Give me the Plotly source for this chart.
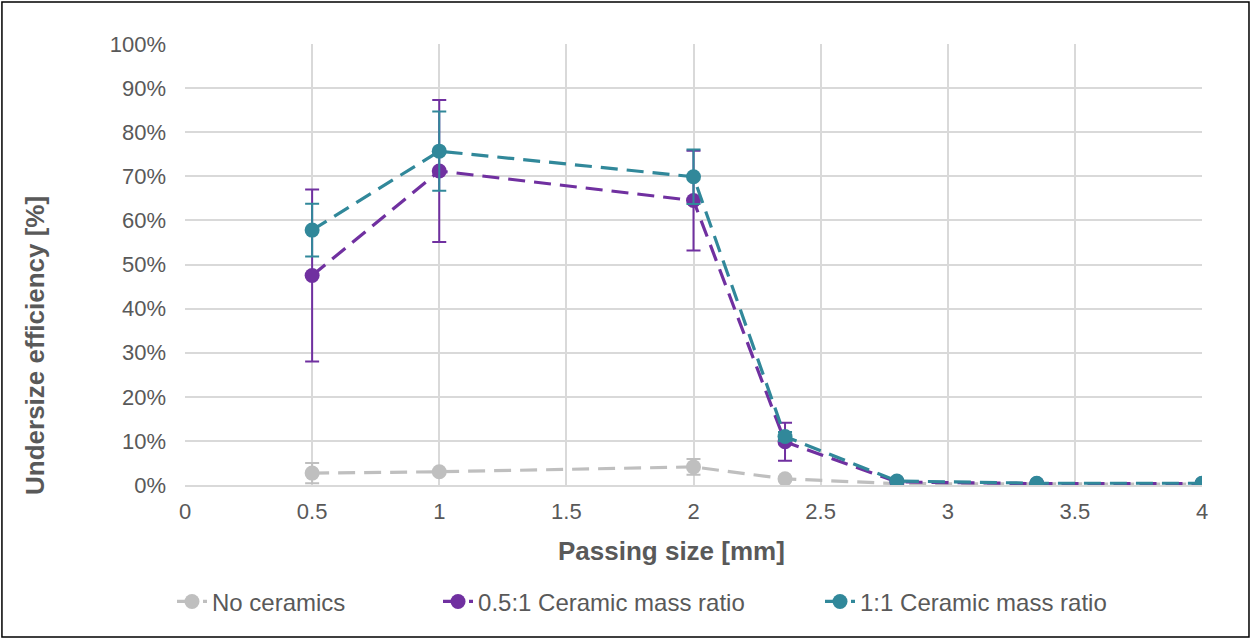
import plotly.graph_objects as go

sizes = [0.5, 1.0, 2.0, 2.36, 2.8, 3.35, 4.0]
no_ceramics = [2.7, 3.0, 4.1, 1.4, 0.3, 0.2, 0.2]
no_ceramics_err = [2.3, 0.0, 1.8, 0.0, 0.0, 0.0, 0.0]
half_ratio = [47.5, 71.2, 64.5, 9.8, 0.7, 0.3, 0.3]
half_ratio_err = [19.5, 16.1, 11.3, 4.3, 0.0, 0.0, 0.0]
one_ratio = [57.8, 75.7, 69.9, 11.0, 0.9, 0.4, 0.4]
one_ratio_err = [6.0, 9.0, 6.2, 1.0, 0.0, 0.0, 0.0]

series = [
    ("No ceramics", no_ceramics, no_ceramics_err, "#bfbfbf", "legend"),
    ("0.5:1 Ceramic mass ratio", half_ratio, half_ratio_err, "#7030a0", "legend2"),
    ("1:1 Ceramic mass ratio", one_ratio, one_ratio_err, "#31889a", "legend3"),
]

fig = go.Figure()
for name, vals, errs, color, leg in series:
    fig.add_trace(go.Scatter(
        x=sizes, y=[v / 100 for v in vals], name=name, legend=leg,
        mode="lines+markers",
        line=dict(color=color, width=3.2, dash="17px,9px"),
        marker=dict(color=color, size=15),
        error_y=dict(type="data", array=[e / 100 for e in errs], visible=True,
                     color=color, thickness=2, width=7),
    ))

font = "Liberation Sans"
grey = "#595959"
leg_common = dict(orientation="h", xanchor="left", y=-0.265, yanchor="middle",
                  font=dict(family=font, size=24, color=grey), bgcolor="rgba(0,0,0,0)")
fig.update_layout(
    width=1251, height=639,
    margin=dict(l=185, r=49, t=44, b=154),
    paper_bgcolor="white", plot_bgcolor="white",
    font=dict(family=font, color=grey, size=22),
    showlegend=True,
    legend=dict(x=-0.0128, **leg_common),
    legend2=dict(x=0.2488, **leg_common),
    legend3=dict(x=0.6244, **leg_common),
    xaxis=dict(range=[0, 4], tick0=0, dtick=0.5, showgrid=True, gridcolor="#d9d9d9",
               gridwidth=1.5, zeroline=False, showline=True, linecolor="#d9d9d9", linewidth=1.5,
               tickfont=dict(family=font, size=22, color=grey), ticks="", ticklabelstandoff=6),
    yaxis=dict(range=[0, 1], dtick=0.1, tickformat=".0%", showgrid=True, gridcolor="#d9d9d9",
               gridwidth=1.5, zeroline=False, showline=False,
               tickfont=dict(family=font, size=22, color=grey), ticks="", ticklabelstandoff=18),
    annotations=[
        dict(text="<b>Passing size [mm]</b>", xref="paper", yref="paper", x=0.4779, y=-0.1497,
             xanchor="center", yanchor="middle", showarrow=False,
             font=dict(family=font, size=26, color=grey)),
        dict(text="<b>Undersize efficiency [%]</b>", xref="paper", yref="paper", x=-0.1475, y=0.3175,
             xanchor="center", yanchor="middle", showarrow=False, textangle=-90,
             font=dict(family=font, size=26, color=grey)),
    ],
    shapes=[dict(type="rect", xref="paper", yref="paper",
                 x0=-0.1800, x1=1.0462, y0=-0.3447, y1=1.0952,
                 line=dict(color="black", width=1.5), fillcolor="rgba(0,0,0,0)")],
)

fig.write_html("out.html")
